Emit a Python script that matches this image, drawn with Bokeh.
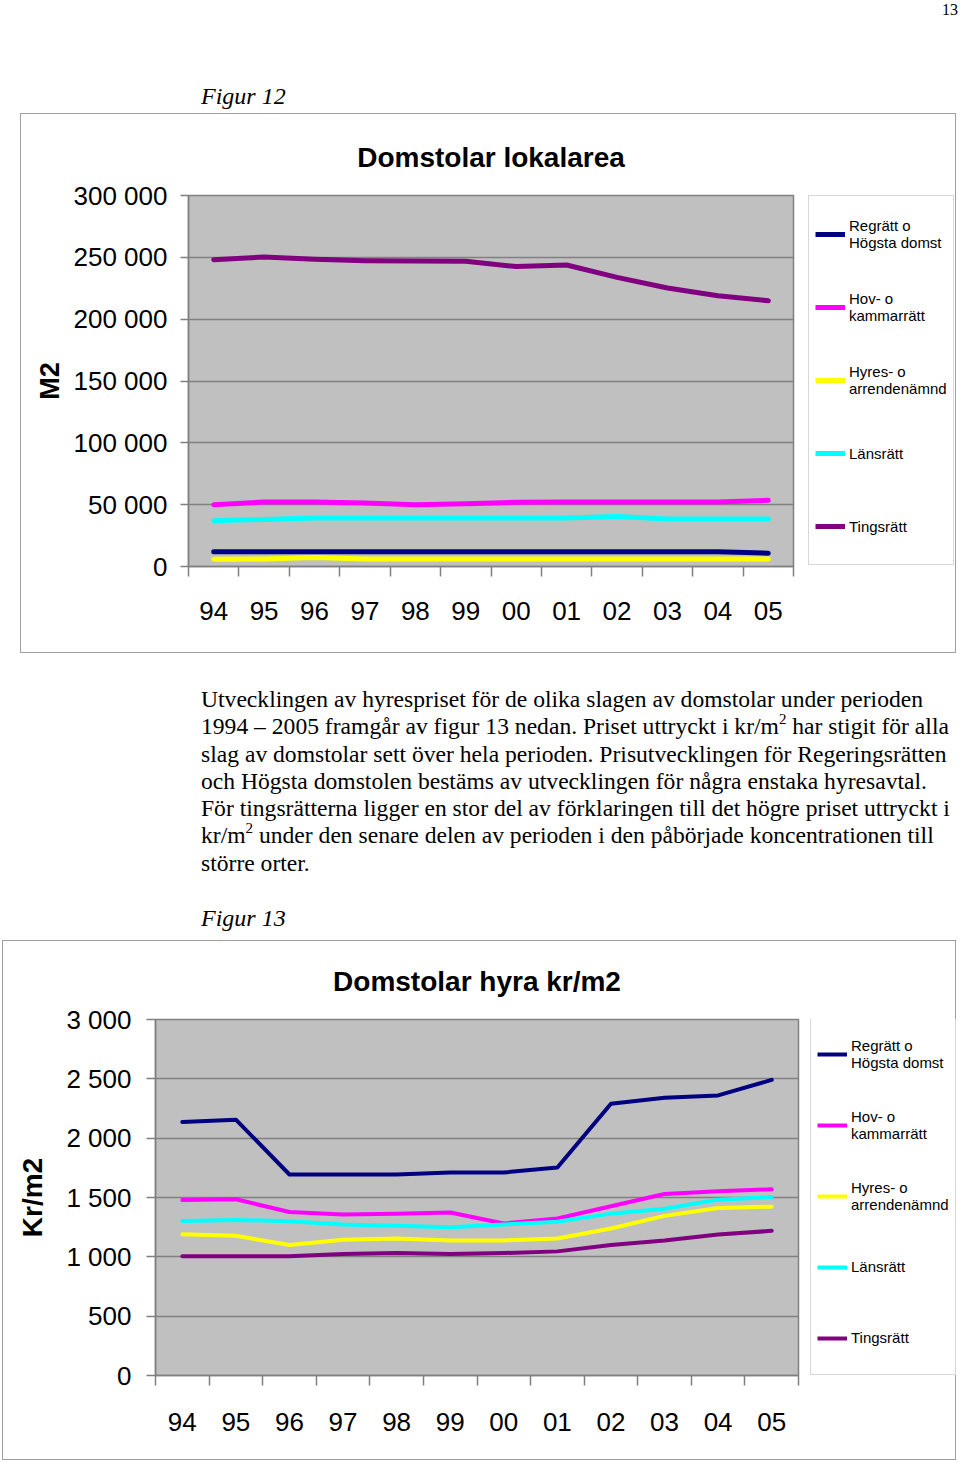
from bokeh.plotting import figure
from bokeh.models import FixedTicker, Legend, LegendItem, Div, Spacer, Range1d
from bokeh.layouts import column, row
from bokeh.embed import file_html
from bokeh.resources import INLINE

# ---------------- data ----------------
years = ["94", "95", "96", "97", "98", "99", "00", "01", "02", "03", "04", "05"]
series_labels = ["Regrätt o\nHögsta domst", "Hov- o\nkammarrätt", "Hyres- o\narrendenämnd",
                 "Länsrätt", "Tingsrätt"]
series_colors = ["#000080", "#FF00FF", "#FFFF00", "#00FFFF", "#800080"]

# Figur 12: Domstolar lokalarea (m2)
area_regratt = [12000, 12000, 12000, 12000, 12000, 12000, 12000, 12000, 12000, 12000, 12000, 10800]
area_hov = [50000, 52200, 52200, 51400, 50000, 50800, 51900, 52200, 52200, 52200, 52200, 53500]
area_hyres = [5900, 6000, 7300, 6000, 6000, 6000, 6000, 6000, 6000, 6000, 6000, 6000]
area_lans = [37000, 38100, 39200, 39200, 39200, 39200, 39200, 39200, 40500, 38400, 38400, 38400]
area_tings = [248100, 250300, 248400, 247300, 247000, 246800, 242500, 243800, 233800, 225200, 218900, 214900]
area_ticks = [0, 50000, 100000, 150000, 200000, 250000, 300000]
area_tick_labels = ["0", "50 000", "100 000", "150 000", "200 000", "250 000", "300 000"]

# Figur 13: Domstolar hyra kr/m2
rent_regratt = [2136, 2156, 1694, 1694, 1694, 1711, 1711, 1753, 2290, 2340, 2360, 2491]
rent_hov = [1479, 1485, 1378, 1356, 1364, 1373, 1281, 1323, 1426, 1529, 1552, 1569]
rent_hyres = [1191, 1177, 1099, 1144, 1155, 1138, 1138, 1155, 1239, 1345, 1412, 1423]
rent_lans = [1303, 1311, 1300, 1272, 1261, 1250, 1272, 1295, 1364, 1406, 1482, 1504]
rent_tings = [1004, 1004, 1004, 1023, 1032, 1023, 1032, 1046, 1099, 1138, 1188, 1219]
rent_ticks = [0, 500, 1000, 1500, 2000, 2500, 3000]
rent_tick_labels = ["0", "500", "1 000", "1 500", "2 000", "2 500", "3 000"]

SANS = "'Liberation Sans', Arial, sans-serif"
SERIF = "'Liberation Serif', 'Times New Roman', serif"
BOX = {"outline": "1px solid #A0A0A0", "outline-offset": "-1px"}

x_pos = list(range(1, len(years) + 1))
x_bounds = [i + 0.5 for i in range(len(years) + 1)]


def make_chart(title, ylabel, ylabel_size, series, ymax, ticks, tick_labels, width, height,
               borders, line_width, title_standoff, ylab_standoff, ytick_out,
               ylabel_tick_standoff, xlab_standoff):
    left, right, top, bottom = borders
    p = figure(width=width, height=height, margin=0,
               x_range=Range1d(0.5, len(years) + 0.5), y_range=Range1d(0, ymax),
               output_backend="svg", toolbar_location=None,
               min_border_left=left, min_border_right=right,
               min_border_top=top, min_border_bottom=bottom,
               background_fill_color="#C0C0C0", border_fill_color=None,
               outline_line_color="#808080", outline_line_width=1.5)
    p.title.text = title
    p.title.align = "center"
    p.title.text_font = SANS
    p.title.text_font_size = "28px"
    p.title.text_font_style = "bold"
    p.title.text_color = "black"
    p.title.standoff = title_standoff

    for vals, col in zip(series, series_colors):
        p.line(x_pos, vals, line_color=col, line_width=line_width,
               line_join="round", line_cap="round")

    # x axis: labels at category centres, ticks between categories
    p.xaxis.ticker = FixedTicker(ticks=x_pos, minor_ticks=x_bounds)
    p.xaxis.major_label_overrides = {x: y for x, y in zip(x_pos, years)}
    p.xaxis.major_tick_out = 0
    p.xaxis.major_tick_in = 0
    p.xaxis.minor_tick_out = 10
    p.xaxis.minor_tick_in = 0
    p.xaxis.minor_tick_line_color = "#808080"
    p.xaxis.minor_tick_line_width = 1.5
    p.xaxis.axis_line_color = "#808080"
    p.xaxis.axis_line_width = 1.5
    p.xaxis.major_label_text_font = SANS
    p.xaxis.major_label_text_font_size = "26px"
    p.xaxis.major_label_text_color = "black"
    p.xaxis.major_label_standoff = xlab_standoff
    p.xgrid.grid_line_color = None

    p.yaxis.ticker = FixedTicker(ticks=ticks)
    p.yaxis.major_label_overrides = {t: l for t, l in zip(ticks, tick_labels)}
    p.yaxis.minor_tick_line_color = None
    p.yaxis.major_tick_out = ytick_out
    p.yaxis.major_tick_in = 0
    p.yaxis.major_tick_line_color = "#808080"
    p.yaxis.major_tick_line_width = 1.5
    p.yaxis.axis_line_color = "#808080"
    p.yaxis.axis_line_width = 1.5
    p.yaxis.major_label_text_font = SANS
    p.yaxis.major_label_text_font_size = "26px"
    p.yaxis.major_label_text_color = "black"
    p.yaxis.major_label_standoff = ylabel_tick_standoff
    p.yaxis.axis_label = ylabel
    p.yaxis.axis_label_text_font = SANS
    p.yaxis.axis_label_text_font_size = ylabel_size
    p.yaxis.axis_label_text_font_style = "bold"
    p.yaxis.axis_label_text_color = "black"
    p.yaxis.axis_label_standoff = ylab_standoff
    p.ygrid.grid_line_color = "#808080"
    p.ygrid.grid_line_width = 1.5
    return p


def make_legend(series, width, height, line_width, leg_y, leg_label_h, leg_spacing):
    q = figure(width=width, height=height, margin=0,
               x_range=Range1d(0, 1), y_range=Range1d(0, 1),
               x_axis_type=None, y_axis_type=None,
               output_backend="svg", toolbar_location=None,
               min_border_left=0, min_border_right=0, min_border_top=0, min_border_bottom=0,
               background_fill_color=None, border_fill_color=None,
               outline_line_color=None)
    q.xgrid.grid_line_color = None
    q.ygrid.grid_line_color = None
    items = []
    for vals, col, lab in zip(series, series_colors, series_labels):
        r = q.line(x_pos, vals, line_color=col, line_width=line_width, visible=False)
        items.append(LegendItem(label=lab, renderers=[r]))
    legend = Legend(items=items, location=(0, leg_y), margin=0, padding=6,
                    spacing=leg_spacing, label_height=leg_label_h, glyph_width=30,
                    glyph_height=20, label_standoff=4,
                    label_text_font=SANS, label_text_font_size="15px",
                    label_text_line_height=1.45, label_text_color="black",
                    border_line_color="#B0B0B0", border_line_width=1,
                    background_fill_color="white", inactive_fill_alpha=0.0)
    q.add_layout(legend, "center")
    return q


area_series = [area_regratt, area_hov, area_hyres, area_lans, area_tings]
rent_series = [rent_regratt, rent_hov, rent_hyres, rent_lans, rent_tings]

p1 = make_chart("Domstolar lokalarea", "M2", "27px", area_series,
                300000, area_ticks, area_tick_labels, 788, 540,
                (168, 15, 82, 87), 5, 46, 6, 8, 13, 25)
l1 = make_legend(area_series, 148, 540, 5, 1, 64, 9)

p2 = make_chart("Domstolar hyra kr/m2", "Kr/m2", "28px", rent_series,
                3000, rent_ticks, rent_tick_labels, 808, 520,
                (153, 12, 77, 85), 4, 46, 15, 9, 15, 27)
l2 = make_legend(rent_series, 146, 520, 4, 0, 61, 10)

header = Div(width=960, height=113, margin=0, text=(
    "<div style=\"position:relative;width:960px;height:113px;font-family:" + SERIF + ";color:black\">"
    "<span style=\"position:absolute;right:2px;top:-1px;font-size:16px;\">13</span>"
    "<span style=\"position:absolute;left:201px;top:79px;font-size:24px;font-style:italic;\">Figur 12</span>"
    "</div>"))

sup = "<sup style=\"font-size:15px;line-height:0;vertical-align:10px\">2</sup>"
para_lines = [
    "Utvecklingen av hyrespriset för de olika slagen av domstolar under perioden",
    "1994 – 2005 framgår av figur 13 nedan. Priset uttryckt i kr/m" + sup + " har stigit för alla",
    "slag av domstolar sett över hela perioden. Prisutvecklingen för Regeringsrätten",
    "och Högsta domstolen bestäms av utvecklingen för några enstaka hyresavtal.",
    "För tingsrätterna ligger en stor del av förklaringen till det högre priset uttryckt i",
    "kr/m" + sup + " under den senare delen av perioden i den påbörjade koncentrationen till",
    "större orter.",
]
middle = Div(width=960, height=287, margin=0, text=(
    "<div style=\"position:relative;width:960px;height:287px;font-family:" + SERIF +
    ";font-size:23.6px;line-height:27.3px;color:black\">"
    "<div style=\"position:absolute;left:201px;top:33px;white-space:nowrap\">" +
    "<br>".join(para_lines) + "</div>"
    "<div style=\"position:absolute;left:201px;top:252px;font-style:italic;font-size:24px\">Figur 13</div>"
    "</div>"))

box1 = row(p1, l1, margin=0, styles=BOX)
box2 = row(p2, l2, margin=0, styles=BOX)

layout = column(header,
                row(Spacer(width=20, height=540, margin=0), box1, margin=0),
                middle,
                row(Spacer(width=2, height=520, margin=0), box2, margin=0),
                margin=0)

with open("out.html", "w") as f:
    f.write(file_html(layout, INLINE))
